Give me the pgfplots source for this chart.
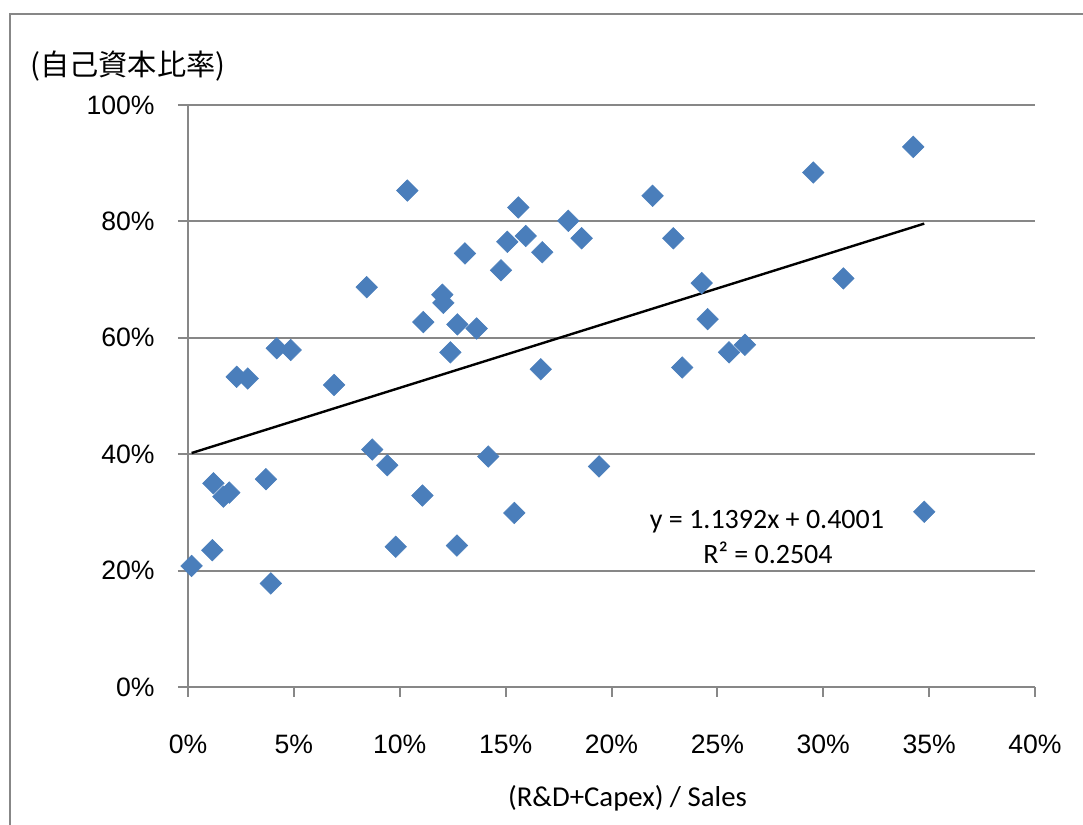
\documentclass[border=0pt]{standalone}
\usepackage{pgfplots}
\pgfplotsset{compat=1.18}
\usepackage{fontspec}
\setmainfont{Liberation Sans}
\newfontfamily\cjk{Noto Sans CJK JP}
\newfontfamily\calib{Carlito}
\definecolor{markblue}{HTML}{4A7EBB}
\definecolor{gridgray}{HTML}{878787}

% (R&D+Capex)/Sales vs. equity ratio, one row per company
\pgfplotstableread{
x y
0.0017 0.208
0.0115 0.235
0.0120 0.350
0.0167 0.327
0.0195 0.334
0.0230 0.533
0.0282 0.530
0.0368 0.357
0.0391 0.178
0.0419 0.582
0.0485 0.579
0.0690 0.519
0.0844 0.687
0.0870 0.408
0.0941 0.381
0.0981 0.241
0.1036 0.853
0.1107 0.329
0.1111 0.627
0.1201 0.674
0.1206 0.660
0.1239 0.575
0.1272 0.623
0.1270 0.243
0.1308 0.745
0.1363 0.616
0.1418 0.396
0.1478 0.716
0.1508 0.765
0.1541 0.299
0.1560 0.824
0.1595 0.775
0.1666 0.546
0.1673 0.747
0.1796 0.801
0.1859 0.771
0.1941 0.379
0.2194 0.844
0.2292 0.771
0.2334 0.549
0.2426 0.694
0.2454 0.632
0.2555 0.575
0.2630 0.588
0.2953 0.884
0.3095 0.702
0.3425 0.928
0.3477 0.301
}\datatable

\begin{document}
\begin{tikzpicture}
\useasboundingbox (0pt,0pt) rectangle (541.5pt,412.5pt);
% chart area frame
\begin{scope}
\clip (0pt,0pt) rectangle (541.5pt,412.5pt);
\draw[gridgray, line width=1pt] (5pt,-20pt) -- (5pt,405.5pt) -- (600pt,405.5pt);
\end{scope}
\begin{axis}[
  at={(94pt,69pt)}, anchor=south west,
  scale only axis, width=423.5pt, height=291pt,
  xmin=0, xmax=0.4, ymin=0, ymax=1,
  axis lines=left, axis line style={-, gridgray, line width=1pt},
  tick align=outside, major tick length=5pt,
  tick style={gridgray, line width=1pt},
  xtick={0,0.05,0.1,0.15,0.2,0.25,0.3,0.35,0.4},
  xticklabels={0\%,5\%,10\%,15\%,20\%,25\%,30\%,35\%,40\%},
  ytick={0,0.2,0.4,0.6,0.8,1},
  yticklabels={0\%,20\%,40\%,60\%,80\%,100\%},
  ymajorgrids, grid style={gridgray, line width=1pt},
  tick label style={font=\fontsize{13.3pt}{15pt}\selectfont, inner sep=0pt},
  yticklabel style={anchor=east},
  xticklabel style={anchor=north},
  yticklabel shift=11.5pt,
  xticklabel shift=18.8pt,
  clip=false,
]
\addplot[only marks, mark=square*, mark size=3.8pt,
  mark options={rotate=45, fill=markblue, draw=markblue, line width=0.3pt}]
  table[x=x, y=y] {\datatable};
% linear trend line: y = 1.1392x + 0.4001
\addplot[black, line width=1.2pt] coordinates {(0.0017,0.4020) (0.3477,0.7962)};
\end{axis}
\node[anchor=center, font=\cjk\fontsize{14.6pt}{16pt}\selectfont] at (64pt,379.5pt) {(自己資本比率)};
\node[anchor=base, font=\calib\fontsize{14.4pt}{17pt}\selectfont] at (313.75pt,9pt) {(R\&D+Capex) / Sales};
\node[anchor=base, font=\calib\fontsize{14pt}{17pt}\selectfont] at (383.5pt,148pt) {y = 1.1392x + 0.4001};
\node[anchor=base, font=\calib\fontsize{14pt}{17pt}\selectfont] at (384pt,130.5pt) {R² = 0.2504};
\end{tikzpicture}
\end{document}
